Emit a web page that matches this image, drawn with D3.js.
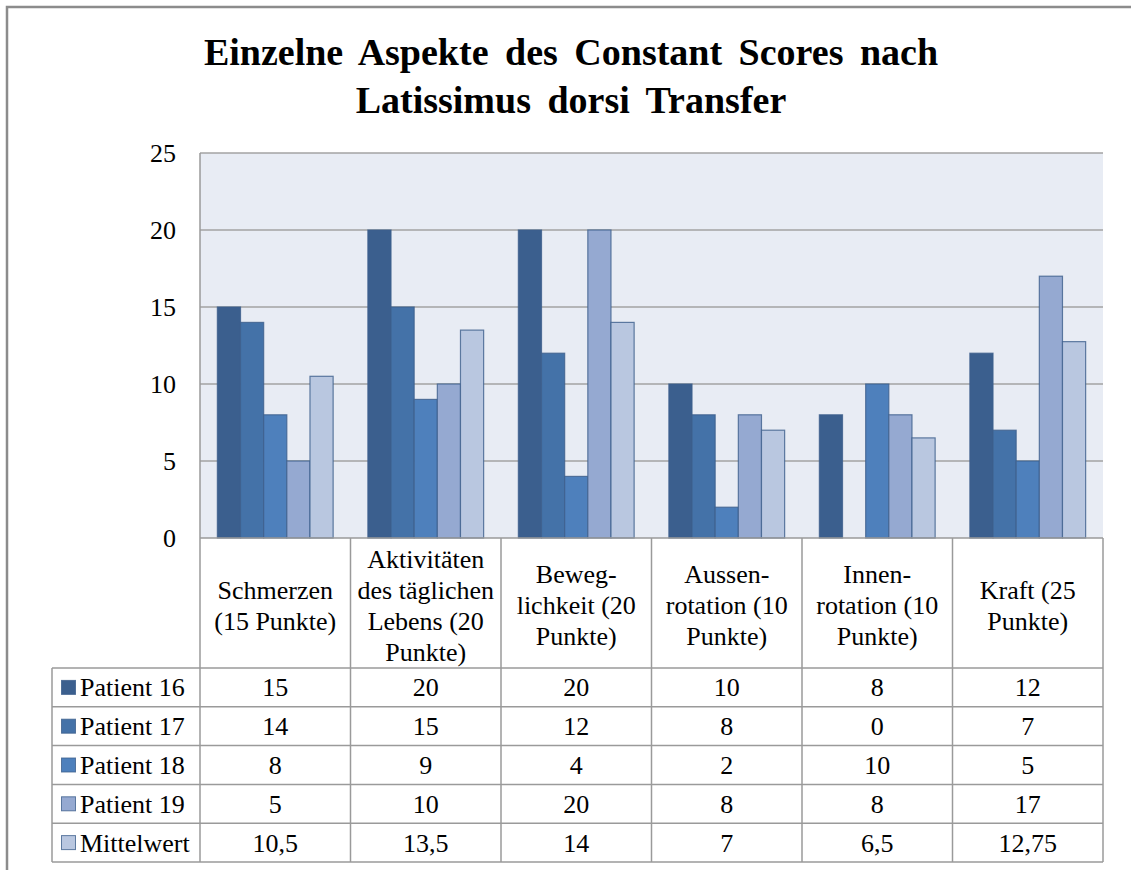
<!DOCTYPE html>
<html>
<head>
<meta charset="utf-8">
<script src="https://cdn.jsdelivr.net/npm/d3@7"></script>
<style>
  html, body { margin: 0; background: #fff; overflow: hidden; }
  svg { display: block; }
  text { font-family: "Liberation Serif", "Times New Roman", serif; fill: #000; }
</style>
</head>
<body>
<div id="chart-area"></div>
<script>
// data
var categories = ["Schmerzen", "ADL", "Beweglichkeit", "Aussenrotation", "Innenrotation", "Kraft"];
var categoryLines = [
  ["Schmerzen", "(15 Punkte)"],
  ["Aktivitäten", "des täglichen", "Lebens (20", "Punkte)"],
  ["Beweg-", "lichkeit (20", "Punkte)"],
  ["Aussen-", "rotation (10", "Punkte)"],
  ["Innen-", "rotation (10", "Punkte)"],
  ["Kraft (25", "Punkte)"]
];
var seriesNames = ["Patient 16", "Patient 17", "Patient 18", "Patient 19", "Mittelwert"];
var patient16 = [15, 20, 20, 10, 8, 12];
var patient17 = [14, 15, 12, 8, 0, 7];
var patient18 = [8, 9, 4, 2, 10, 5];
var patient19 = [5, 10, 20, 8, 8, 17];
var mittelwert = [10.5, 13.5, 14, 7, 6.5, 12.75];
var yTicks = [0, 5, 10, 15, 20, 25];
var colors = ["#3b5f8e", "#4472a8", "#4e80bc", "#95a9d1", "#b9c7e0"];

var seriesValues = [patient16, patient17, patient18, patient19, mittelwert];

var svg = d3.select("#chart-area")
  .append("svg")
  .attr("width", 1131)
  .attr("height", 870)
  .attr("font-family", "'Liberation Serif', 'Times New Roman', serif");

// outer frame (only left and top edges are inside the picture)
svg.append("path")
  .attr("d", "M7,870V7H1131")
  .attr("fill", "none")
  .attr("stroke", "#8c8c8c")
  .attr("stroke-width", 2.5);

// title
var title = svg.append("text")
  .attr("text-anchor", "middle")
  .attr("font-weight", "bold")
  .attr("font-size", 38)
  .attr("word-spacing", 7);
title.append("tspan").attr("x", 571).attr("y", 65).text("Einzelne Aspekte des Constant Scores nach");
title.append("tspan").attr("x", 571).attr("y", 113).text("Latissimus dorsi Transfer");

var plotLeft = 200, plotRight = 1103, plotTop = 153, plotBottom = 538;

var x = d3.scaleBand()
  .domain(categories)
  .range([plotLeft, plotRight]);

var x1 = d3.scaleBand()
  .domain(seriesNames)
  .range([0, x.bandwidth()])
  .paddingOuter(0.75)
  .paddingInner(0);

var y = d3.scaleLinear()
  .domain([0, 25])
  .range([plotBottom, plotTop]);

// plot background
svg.append("rect")
  .attr("x", plotLeft).attr("y", plotTop)
  .attr("width", plotRight - plotLeft).attr("height", plotBottom - plotTop)
  .attr("fill", "#e8ecf4");

// gridlines
svg.selectAll("line.grid")
  .data(yTicks.filter(d => d > 0))
  .enter()
  .append("line")
  .attr("class", "grid")
  .attr("x1", plotLeft).attr("x2", plotRight)
  .attr("y1", d => y(d)).attr("y2", d => y(d))
  .attr("stroke", "#a3a3a3")
  .attr("stroke-width", 1.5);

// y labels
svg.selectAll("text.ytick")
  .data(yTicks)
  .enter()
  .append("text")
  .attr("class", "ytick")
  .attr("x", 176)
  .attr("y", d => y(d) + 9)
  .attr("text-anchor", "end")
  .attr("font-size", 26)
  .text(d => d);

// bars
var groups = svg.selectAll("g.series")
  .data(seriesValues)
  .enter()
  .append("g")
  .attr("class", "series");

groups.each(function(vals, si) {
  d3.select(this).selectAll("rect")
    .data(vals.map((v, ci) => ({ v: v, c: categories[ci] })).filter(d => d.v > 0))
    .enter()
    .append("rect")
    .attr("x", d => x(d.c) + x1(seriesNames[si]))
    .attr("y", d => y(d.v))
    .attr("width", x1.bandwidth())
    .attr("height", d => y(0) - y(d.v))
    .attr("fill", colors[si])
    .attr("stroke", "#3d5f8c")
    .attr("stroke-opacity", 0.8)
    .attr("stroke-width", 1.2);
});

// table
var headerBottom = 668;
var rowH = 38.8;
var tableBottom = headerBottom + rowH * seriesNames.length;
var lineColor = "#9a9a9a";

// axis line / header top
svg.append("line")
  .attr("x1", plotLeft).attr("x2", plotRight)
  .attr("y1", plotBottom).attr("y2", plotBottom)
  .attr("stroke", lineColor).attr("stroke-width", 1.5);

// horizontal row lines
svg.selectAll("line.row")
  .data(d3.range(seriesNames.length + 1))
  .enter()
  .append("line")
  .attr("class", "row")
  .attr("x1", 52).attr("x2", plotRight)
  .attr("y1", i => headerBottom + i * rowH)
  .attr("y2", i => headerBottom + i * rowH)
  .attr("stroke", lineColor).attr("stroke-width", 1.5);

// vertical lines
svg.append("line")
  .attr("x1", plotLeft).attr("x2", plotLeft)
  .attr("y1", plotTop).attr("y2", tableBottom)
  .attr("stroke", lineColor).attr("stroke-width", 1.5);
svg.selectAll("line.col")
  .data(categories)
  .enter()
  .append("line")
  .attr("class", "col")
  .attr("x1", d => x(d) + x.bandwidth())
  .attr("x2", d => x(d) + x.bandwidth())
  .attr("y1", plotBottom).attr("y2", tableBottom)
  .attr("stroke", lineColor).attr("stroke-width", 1.5);
svg.append("line")
  .attr("x1", 52).attr("x2", 52)
  .attr("y1", headerBottom).attr("y2", tableBottom)
  .attr("stroke", lineColor).attr("stroke-width", 1.5);

// category labels
var lineH = 31;
categories.forEach((c, ci) => {
  var lines = categoryLines[ci];
  var mid = (plotBottom + headerBottom) / 2 + 2;
  svg.append("g").selectAll("text")
    .data(lines)
    .enter()
    .append("text")
    .attr("x", x(c) + x.bandwidth() / 2)
    .attr("y", (d, i) => mid + (i - (lines.length - 1) / 2) * lineH + 9)
    .attr("text-anchor", "middle")
    .attr("font-size", 26)
    .text(d => d);
});

// legend keys + row labels
seriesNames.forEach((name, si) => {
  var cy = headerBottom + si * rowH + rowH / 2;
  svg.append("rect")
    .attr("x", 61.5).attr("y", cy - 7)
    .attr("width", 14).attr("height", 14)
    .attr("fill", colors[si])
    .attr("stroke", "#3d5f8c")
    .attr("stroke-opacity", 0.8)
    .attr("stroke-width", 1);
  svg.append("text")
    .attr("x", 80)
    .attr("y", cy + 9)
    .attr("font-size", 26)
    .text(name);

  svg.append("g").selectAll("text")
    .data(seriesValues[si])
    .enter()
    .append("text")
    .attr("x", (d, ci) => x(categories[ci]) + x.bandwidth() / 2)
    .attr("y", cy + 9)
    .attr("text-anchor", "middle")
    .attr("font-size", 26)
    .text(d => String(d).replace(".", ","));
});
</script>
</body>
</html>
